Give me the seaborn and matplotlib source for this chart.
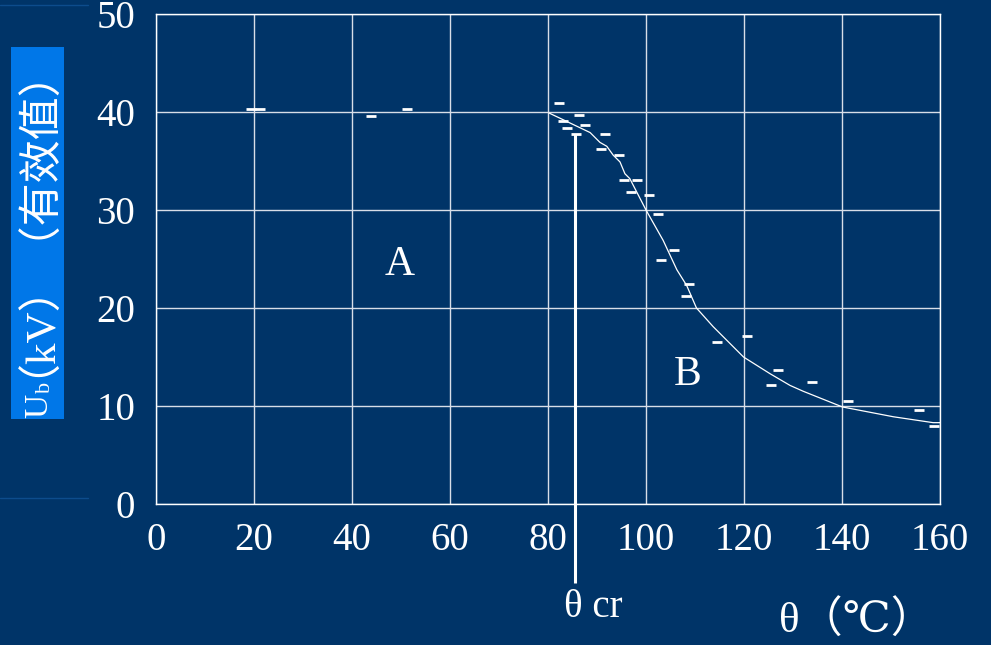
import numpy as np
import pandas as pd
import matplotlib
matplotlib.use("Agg")
import matplotlib.pyplot as plt
import seaborn as sns

# ---- data ----
pts_x = [19.4, 21.2, 43.8, 51.3, 82.2, 86.3, 83.1, 87.6, 83.8, 85.7, 91.6, 90.9,
         94.4, 95.6, 98.2, 96.9, 100.6, 102.5, 105.7, 103.1, 108.8, 108.2, 114.4,
         120.7, 127.0, 125.6, 133.8, 141.3, 155.7, 158.8]
pts_y = [40.3, 40.3, 39.6, 40.3, 40.9, 39.7, 39.05, 38.7, 38.4, 37.8, 37.8, 36.2,
         35.6, 33.1, 33.1, 31.8, 31.5, 29.6, 25.9, 24.9, 22.4, 21.2, 16.5,
         17.1, 13.7, 12.1, 12.4, 10.5, 9.6, 8.0]
curve_x = [80.2, 88.6, 90.6, 92.0, 93.3, 94.7, 95.7, 96.7, 100.0, 103.5, 106.3,
           108.3, 110.3, 113.7, 119.9, 125.3, 129.4, 132.1, 140.1, 150.5, 158.6, 160.0]
curve_y = [39.9, 37.9, 36.9, 36.5, 35.6, 34.9, 33.7, 33.2, 30.0, 26.9, 23.9,
           22.3, 20.0, 18.1, 15.0, 13.3, 12.1, 11.5, 9.9, 8.9, 8.3, 8.3]
theta_cr = 85.6
theta_cr_top = 37.8
x_ticks = [0, 20, 40, 60, 80, 100, 120, 140, 160]
y_ticks = [0, 10, 20, 30, 40, 50]
region_labels = ["A", "B"]
region_x = [49.8, 108.4]
region_y = [24.4, 13.2]

BG = "#003468"
BOX = "#0077E8"
GRID = "#d8dee8"

sns.set_theme(style="dark", rc={"axes.facecolor": BG, "figure.facecolor": BG})
plt.rcParams["font.family"] = ["Liberation Serif", "DejaVu Serif", "Noto Sans CJK SC"]

fig = plt.figure(figsize=(9.91, 6.45), dpi=100)
ax = fig.add_axes([156/991, 1-504/645, (940-156)/991, (504-14)/645])
ax.set_facecolor(BG)

pts = pd.DataFrame({"x": pts_x, "y": pts_y})
curve = pd.DataFrame({"x": curve_x, "y": curve_y})

sns.lineplot(data=curve, x="x", y="y", sort=False, estimator=None,
             color="white", linewidth=0.9, ax=ax)
sns.scatterplot(data=pts, x="x", y="y", marker="_", s=55, linewidth=2.0,
                color="white", ax=ax, zorder=5)

ax.plot([theta_cr, theta_cr], [theta_cr_top, -8.1], color="white",
        linewidth=2.2, clip_on=False, zorder=4, solid_capstyle="butt")

ax.set_xlim(0, 160)
ax.set_ylim(0, 50)
ax.set_xticks(x_ticks)
ax.set_yticks(y_ticks)
ax.set_xticklabels([str(v) for v in x_ticks])
ax.set_yticklabels([str(v) for v in y_ticks])
ax.grid(True, color=GRID, linewidth=1.0)
ax.set_axisbelow(True)
for s in ax.spines.values():
    s.set_visible(True)
    s.set_color("white")
    s.set_linewidth(1.0)
ax.tick_params(axis="both", colors="white", labelcolor="white", labelsize=28,
               length=3, width=1, direction="out")
ax.tick_params(axis="y", pad=12)
ax.tick_params(axis="x", pad=10)
ax.set_xlabel("")
ax.set_ylabel("")

for lab, lx, ly in zip(region_labels, region_x, region_y):
    ax.text(lx, ly, lab, color="white", fontsize=30, ha="center", va="center")

ax.text(89.2, -10.6, "θ cr", color="white", fontsize=28, ha="center",
        va="center", clip_on=False)

fig.text(856/991, 1-621/645, "θ（℃）", color="white", fontsize=31,
         ha="center", va="center")

# y label box
fig.patches.append(plt.Rectangle((11/991, 1-419/645), 53/991, 372/645,
                                 transform=fig.transFigure, facecolor=BOX,
                                 edgecolor="none", zorder=0))
fig.text(47/991, 1-418/645, "U", color="white", fontsize=24, rotation=90,
         rotation_mode="anchor", ha="left", va="baseline")
fig.text(50/991, 1-393/645, "b", color="white", fontsize=16, rotation=90,
         rotation_mode="anchor", ha="left", va="baseline")
fig.text(27/991, 1-377/645, "（kV）（有效值）", color="white", fontsize=31,
         rotation=90, rotation_mode="anchor", ha="left", va="baseline")

# decorative lines at left
fig.lines.append(plt.Line2D([0, 88/991], [1-5/645, 1-5/645], transform=fig.transFigure,
                            color="#0d4c8c", linewidth=1.0))
fig.lines.append(plt.Line2D([0, 88/991], [1-498/645, 1-498/645], transform=fig.transFigure,
                            color="#0d4c8c", linewidth=1.0))

fig.savefig("out.png", dpi=100, facecolor=BG)
